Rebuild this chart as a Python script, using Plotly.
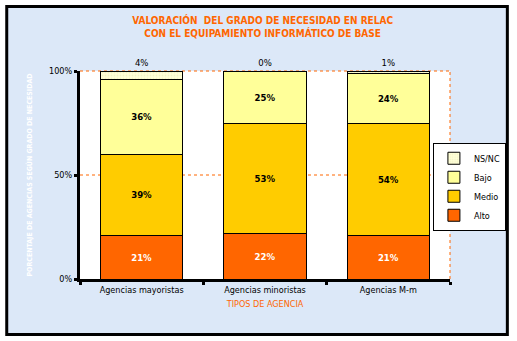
import plotly.graph_objects as go

categories = ["Agencias mayoristas", "Agencias minoristas", "Agencias M-m"]
alto = [21, 22, 21]
medio = [39, 53, 54]
bajo = [36, 25, 24]
nsnc = [4, 0, 1]
y_ticks = [0, 50, 100]
y_tick_labels = ["0%", "50%", "100%"]

FONT = "Liberation Sans Narrow, Arial Narrow, DejaVu Sans Condensed, Liberation Sans, Arial, sans-serif"
ORANGE = "#FF6600"

fig = go.Figure()
series = [
    ("Alto", alto, "#FF6600", "white"),
    ("Medio", medio, "#FFCC00", "black"),
    ("Bajo", bajo, "#FFFF99", "black"),
]
for name, vals, col, tcol in series:
    fig.add_trace(go.Bar(
        name=name, x=categories, y=vals,
        marker=dict(color=col, line=dict(color="black", width=1)),
        text=[f"{v}%" for v in vals], textposition="inside", insidetextanchor="middle",
        textfont=dict(family=FONT, size=9.5, color=tcol, weight="bold"),
        constraintext="none",
    ))
fig.add_trace(go.Bar(
    name="NS/NC", x=categories, y=nsnc,
    marker=dict(color="#FFFFD8", line=dict(color="black", width=1),
                pattern=dict(shape=".", fgcolor="#E8E8B0", size=3, solidity=0.3)),
    text=[f"{v}%" for v in nsnc], textposition="outside",
    textfont=dict(family=FONT, size=9.5, color="black"),
    constraintext="none", cliponaxis=False,
))

# frame
fig.add_shape(type="rect", xref="paper", yref="paper",
              x0=-0.198, x1=1.155, y0=-0.267, y1=1.310,
              fillcolor="#DCE8F8", line=dict(color="black", width=3), layer="below")
# white plot area
fig.add_shape(type="rect", xref="paper", yref="paper", x0=0, x1=1, y0=0, y1=1,
              fillcolor="white", line=dict(width=0), layer="below")
# dotted borders of plot area (right and top) and 50% gridline
fig.add_shape(type="line", xref="paper", yref="paper", x0=1, x1=1, y0=0, y1=1,
              line=dict(color=ORANGE, width=1, dash="dot"), layer="below")
fig.add_shape(type="line", xref="paper", yref="paper", x0=0, x1=1, y0=1, y1=1,
              line=dict(color=ORANGE, width=1, dash="dot"), layer="below")
fig.add_shape(type="line", xref="paper", yref="y", x0=0, x1=1, y0=y_ticks[1], y1=y_ticks[1],
              line=dict(color=ORANGE, width=1, dash="dot"), layer="below")

fig.update_layout(
    width=517, height=341,
    margin=dict(l=80, r=66, t=71, b=62),
    paper_bgcolor="white", plot_bgcolor="rgba(0,0,0,0)",
    barmode="stack", bargap=0.33,
    font=dict(family=FONT, size=9, color="black"),
    title=dict(
        text="VALORACIÓN  DEL GRADO DE NECESIDAD EN RELAC<br>CON EL EQUIPAMIENTO INFORMÁTICO DE BASE",
        x=0.508, xanchor="center", yref="container", y=0.93, yanchor="middle",
        font=dict(family=FONT, size=10, color=ORANGE, weight="bold"),
    ),
    legend=dict(
        x=1.148, xanchor="right", y=0.655, yanchor="top",
        bgcolor="white", bordercolor="black", borderwidth=1,
        font=dict(family=FONT, size=9, color="black"),
        traceorder="reversed", itemwidth=30, tracegroupgap=0,
    ),
    showlegend=True,
)

fig.update_xaxes(
    showline=True, linecolor="black", linewidth=3,
    ticks="outside", tickson="boundaries", ticklen=3, tickwidth=3, tickcolor="black",
    tickfont=dict(family=FONT, size=9, color="black"),
    title=dict(text="TIPOS DE AGENCIA", font=dict(family=FONT, size=9, color=ORANGE), standoff=7),
)
fig.update_yaxes(
    range=[0, 100], tickvals=y_ticks, ticktext=y_tick_labels,
    showline=True, linecolor="black", linewidth=3,
    ticks="outside", ticklen=3, tickwidth=3, tickcolor="black",
    showgrid=False, zeroline=False,
    tickfont=dict(family=FONT, size=9, color="black"),
    title=dict(text="PORCENTAJE DE AGENCIAS SEGÚN GRADO DE NECESIDAD",
               font=dict(family=FONT, size=7, color="white", weight="bold"), standoff=16),
)

fig.write_html("out.html")
